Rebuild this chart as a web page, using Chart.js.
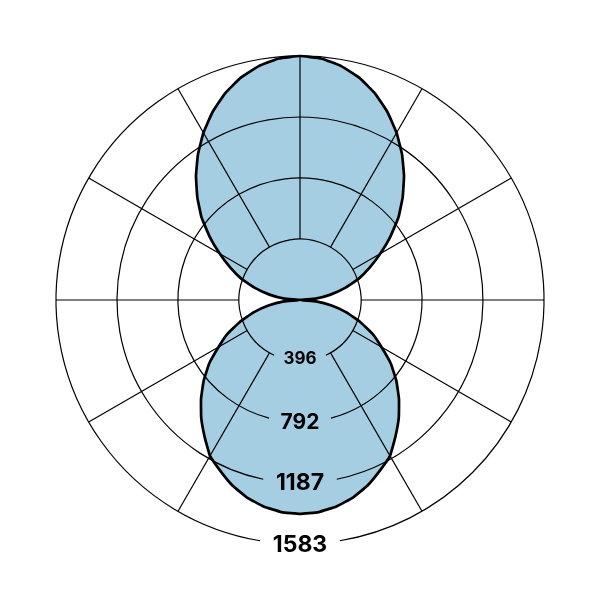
<!DOCTYPE html>
<html lang="en">
<head>
    <meta charset="UTF-8">
    <title>Polar intensity curve</title>
    <script src="https://cdn.jsdelivr.net/npm/chart.js@4.4.1/dist/chart.umd.min.js"></script>
    <style>
        body {
            margin: 0;
            background: #fff;
        }
        #polarChart {
            display: block;
        }
    </style>
</head>
<body>
    <canvas id="polarChart" width="601" height="601"></canvas>

    <script>
        // Angles in degrees, 0 pointing down, every 5 degrees clockwise
        const angles = [
            0, 5, 10, 15, 20, 25, 30, 35, 40, 45, 50, 55, 60, 65, 70, 75, 80, 85,
            90, 95, 100, 105, 110, 115, 120, 125, 130, 135, 140, 145, 150, 155, 160, 165, 170, 175,
            180, 185, 190, 195, 200, 205, 210, 215, 220, 225, 230, 235, 240, 245, 250, 255, 260, 265,
            270, 275, 280, 285, 290, 295, 300, 305, 310, 315, 320, 325, 330, 335, 340, 345, 350, 355
        ];

        // Intensity for each angle
        const intensity = [
            1388, 1381, 1360, 1327, 1281, 1223, 1168, 1080, 997, 908, 816, 719, 610, 518, 416, 312, 208, 104,
            0, 101, 201, 303, 406, 500, 602, 715, 834, 942, 1050, 1154, 1253, 1344, 1425, 1492, 1541, 1573,
            1583, 1573, 1541, 1492, 1425, 1344, 1253, 1154, 1050, 942, 834, 715, 602, 500, 406, 303, 201, 101,
            0, 104, 208, 312, 416, 518, 610, 719, 816, 908, 997, 1080, 1168, 1223, 1281, 1327, 1360, 1381
        ];

        const tickValues = [396, 792, 1187, 1583];
        const tickLabels = ['396', '792', '1187', '1583'];

        const labelSizes = [17, 21, 23, 23];
        const labelShift = [-2, 1, 0, 1];

        // rings with a gap under each label, spokes from the first ring outwards
        // (no spoke straight down, the labels sit there)
        const polarGrid = {
            id: 'polarGrid',
            afterDatasetsDraw(chart) {
                const ctx = chart.ctx;
                const scale = chart.scales.r;
                const cx = scale.xCenter;
                const cy = scale.yCenter;
                ctx.save();
                ctx.strokeStyle = '#000';
                ctx.lineWidth = 1.2;

                for (let i = 6; i < angles.length; i += 6) {
                    const a = scale.getPointPositionForValue(i, tickValues[0]);
                    const b = scale.getPointPositionForValue(i, scale.max);
                    ctx.beginPath();
                    ctx.moveTo(a.x, a.y);
                    ctx.lineTo(b.x, b.y);
                    ctx.stroke();
                }

                ctx.textAlign = 'center';
                ctx.textBaseline = 'middle';
                ctx.fillStyle = '#000';
                tickValues.forEach((v, k) => {
                    const r = scale.getDistanceFromCenterForValue(v);
                    const size = labelSizes[k];
                    ctx.font = 'bold ' + size + 'px Inter, "Liberation Sans", sans-serif';
                    const w = ctx.measureText(tickLabels[k]).width;
                    const half = w / 2 + 0.55 * size;
                    const g = Math.asin(Math.min(1, half / r));
                    ctx.beginPath();
                    ctx.arc(cx, cy, r, Math.PI / 2 + g, Math.PI / 2 - g + 2 * Math.PI);
                    ctx.stroke();
                    ctx.fillText(tickLabels[k], cx, cy + r + labelShift[k]);
                });
                ctx.restore();
            }
        };

        const chart = new Chart(document.getElementById('polarChart'), {
            type: 'radar',
            data: {
                labels: angles.map(a => a + '°'),
                datasets: [{
                    data: intensity,
                    backgroundColor: '#a6cee3',
                    borderColor: '#000',
                    borderWidth: 2.7,
                    pointRadius: 0,
                    tension: 0.1,
                    fill: true
                }]
            },
            options: {
                responsive: false,
                animation: false,
                layout: { padding: 56 },
                plugins: {
                    legend: { display: false },
                    tooltip: { enabled: false }
                },
                scales: {
                    r: {
                        min: 0,
                        max: 1583,
                        startAngle: 180,
                        ticks: { display: false },
                        grid: { display: false },
                        angleLines: { display: false },
                        pointLabels: { display: false },
                        afterBuildTicks: (scale) => {
                            scale.ticks = tickValues.map(v => ({ value: v }));
                        }
                    }
                }
            },
            plugins: [polarGrid]
        });
    </script>
</body>
</html>
